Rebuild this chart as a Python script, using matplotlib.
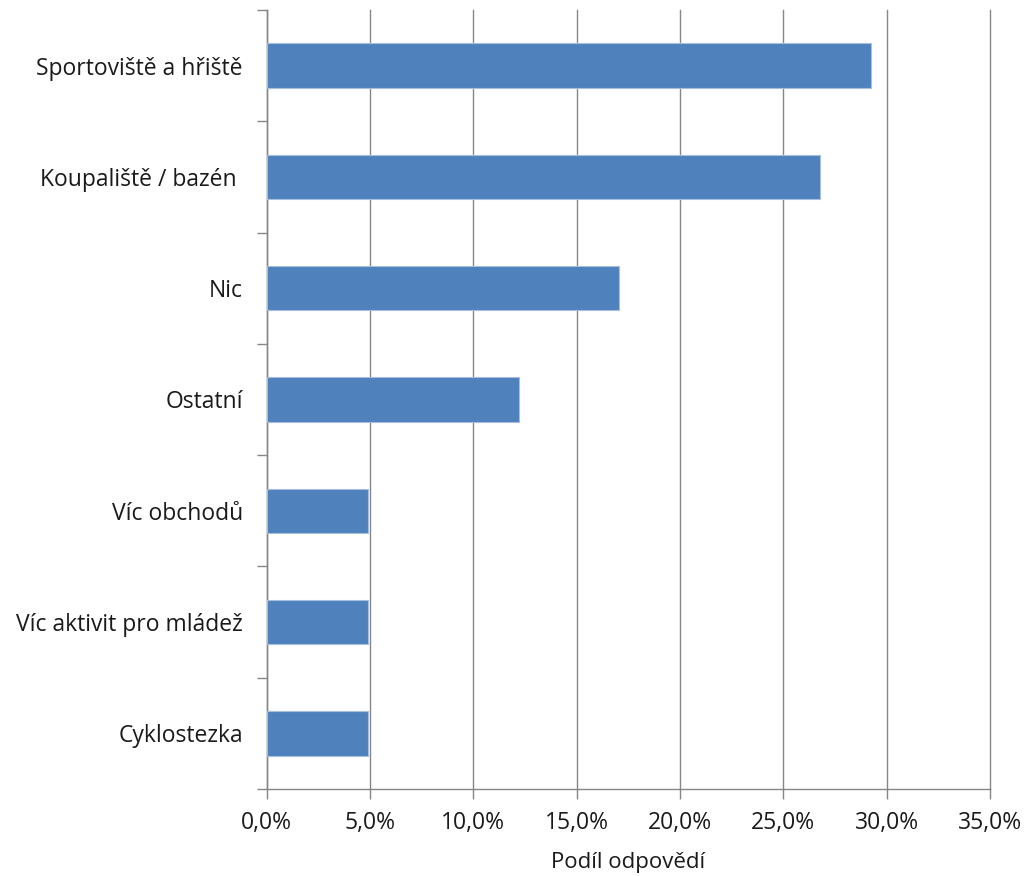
import matplotlib.pyplot as plt
from matplotlib.ticker import FixedLocator, FuncFormatter
import numpy as np

plt.rcParams['font.family'] = ['Open Sans', 'DejaVu Sans']

# data (share of answers, %)
categories = ['Sportoviště a hřiště', 'Koupaliště / bazén ', 'Nic', 'Ostatní',
              'Víc obchodů', 'Víc aktivit pro mládež', 'Cyklostezka']
values = [29.25, 26.75, 17.05, 12.2, 4.9, 4.9, 4.9]
xticks = [0, 5, 10, 15, 20, 25, 30, 35]

fig = plt.figure(figsize=(10.25, 8.76), dpi=100)
ax = fig.add_axes([0.260, 0.0993, 0.706, 0.8893])

y = np.arange(len(categories))[::-1]
ax.barh(y, values, height=0.4, color='#4F81BD', edgecolor='#A7BFDE', linewidth=0.8, zorder=3)

ax.set_xlim(0, 35)
ax.set_ylim(-0.5, len(categories) - 0.5)
ax.set_xticks(xticks)
ax.xaxis.set_major_formatter(FuncFormatter(lambda v, p: f'{v:.1f}%'.replace('.', ',')))
ax.grid(axis='x', color='#868686', linewidth=1.0, zorder=0)
for gl in ax.get_xgridlines():
    gl.set_clip_on(False)

ax.set_yticks(y)
ax.set_yticklabels(categories)
ax.yaxis.set_minor_locator(FixedLocator(np.arange(-0.5, len(categories), 1.0)))
ax.tick_params(axis='y', which='major', length=0, pad=17, labelsize=16.5, labelcolor='#1a1a1a')
ax.tick_params(axis='y', which='minor', length=7, color='#868686', width=1)
ax.tick_params(axis='x', length=7, color='#868686', width=1, labelsize=16.5, labelcolor='#1a1a1a', pad=9)

for s in ['top', 'right']:
    ax.spines[s].set_visible(False)
for s in ['left', 'bottom']:
    ax.spines[s].set_color('#868686')
    ax.spines[s].set_linewidth(1.0)

ax.set_xlabel('Podíl odpovědí', fontsize=16, color='#1a1a1a', labelpad=12)

fig.savefig('out.png', dpi=100)
